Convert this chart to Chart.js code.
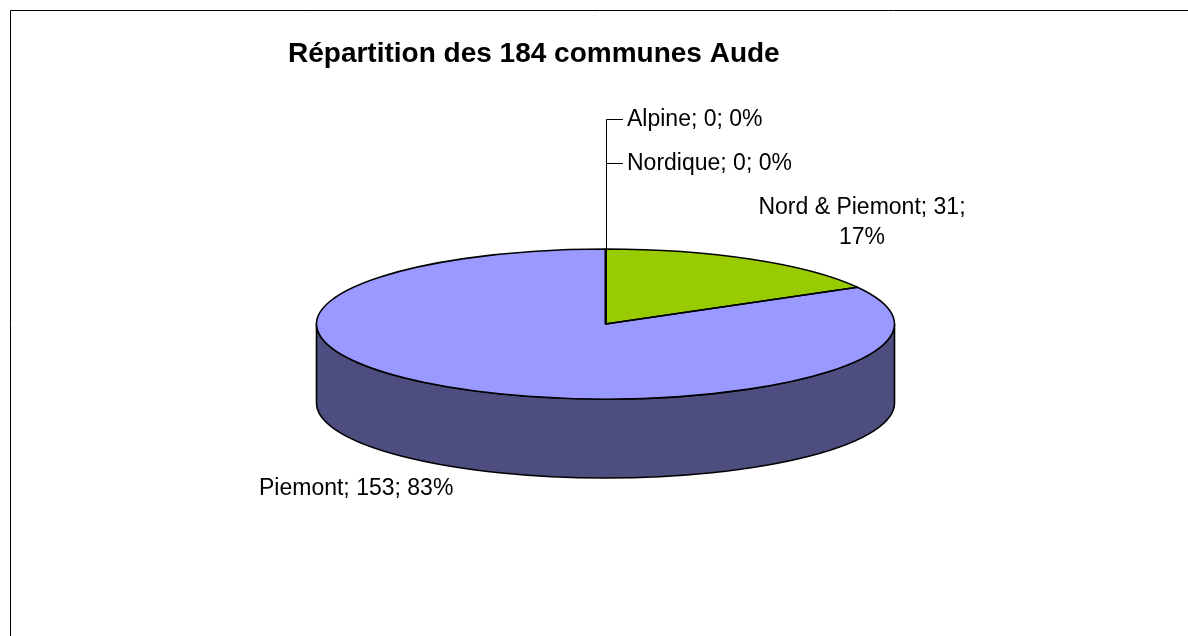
<!DOCTYPE html>
<html lang="fr">
<head>
<meta charset="utf-8">
<title>Répartition des 184 communes Aude</title>
<script src="https://cdn.jsdelivr.net/npm/chart.js@4"></script>
<style>
html,body{margin:0;padding:0;background:#fff;overflow:hidden}
canvas{display:block}
</style>
</head>
<body>
<canvas id="c" width="1188" height="636"></canvas>
<script>
const titleText = "Répartition des 184 communes Aude";
const categories = ["Alpine", "Nordique", "Nord & Piemont", "Piemont"];
const communes = [0, 0, 31, 153];
const sliceColors = ["#FFFFCC", "#CCFFFF", "#99CC00", "#9999FF"];
const sideColors = ["#80805F", "#668080", "#4D6600", "#4D4D80"];

const FONT = '"Liberation Sans", Arial, sans-serif';
const RX = 289, RY = 75, DEPTH = 79;
const labelSpots = [
  {x: 627, y: 118.5, align: "left", lead: true},
  {x: 627, y: 162.5, align: "left", lead: true},
  {x: 862, y: 206.5, align: "center", wrapAfter: 2},
  {x: 259, y: 487.5, align: "left"}
];

const pie3d = {
  id: "pie3d",
  afterLayout(chart) {
    const t = chart.titleBlock;
    const w = t.right - t.left;
    t.left = 288;
    t.right = 288 + w;
  },
  beforeDatasetsDraw(chart) {
    const ctx = chart.ctx;
    const arcs = chart.getDatasetMeta(0).data;

    // frame
    ctx.save();
    ctx.strokeStyle = "#000";
    ctx.lineWidth = 1;
    ctx.beginPath();
    ctx.moveTo(10.5, 636);
    ctx.lineTo(10.5, 10.5);
    ctx.lineTo(1188, 10.5);
    ctx.stroke();
    ctx.restore();

    // extruded side of the slices facing the viewer
    arcs.forEach((el, i) => {
      if (el.endAngle - el.startAngle <= 0) return;
      for (const k of [0, 2]) {
        const a0 = Math.max(el.startAngle, k * Math.PI);
        const a1 = Math.min(el.endAngle, (k + 1) * Math.PI);
        if (a1 <= a0) continue;
        ctx.save();
        ctx.beginPath();
        ctx.ellipse(el.x, el.y, RX, RY, 0, a0, a1, false);
        ctx.ellipse(el.x, el.y + DEPTH, RX, RY, 0, a1, a0, true);
        ctx.closePath();
        ctx.fillStyle = sideColors[i];
        ctx.fill();
        ctx.strokeStyle = "#000";
        ctx.lineWidth = 1.6;
        ctx.stroke();
        ctx.restore();
      }
    });

    // tilt the library's round pie into an ellipse
    const first = arcs[0];
    ctx.save();
    ctx.translate(first.x, first.y);
    ctx.scale(1, RY / RX);
    ctx.translate(-first.x, -first.y);
  },
  afterDatasetsDraw(chart) {
    const ctx = chart.ctx;
    ctx.restore();
    const arcs = chart.getDatasetMeta(0).data;
    const total = communes.reduce((a, b) => a + b, 0);

    ctx.save();
    ctx.strokeStyle = "#000";
    ctx.lineWidth = 1.6;
    ctx.lineJoin = "round";
    arcs.forEach(el => {
      if (el.endAngle - el.startAngle <= 0) return;
      ctx.beginPath();
      ctx.moveTo(el.x, el.y);
      ctx.ellipse(el.x, el.y, RX, RY, 0, el.startAngle, el.endAngle, false);
      ctx.closePath();
      ctx.stroke();
    });
    ctx.restore();

    // data labels
    ctx.save();
    ctx.fillStyle = "#000";
    ctx.font = "23px " + FONT;
    ctx.textBaseline = "middle";
    arcs.forEach((el, i) => {
      const s = labelSpots[i];
      const pct = Math.round(communes[i] / total * 100) + "%";
      const textY = s.y + 1.5;
      ctx.textAlign = s.align;
      if (s.lead) {
        ctx.save();
        ctx.strokeStyle = "#000";
        ctx.lineWidth = 1;
        ctx.beginPath();
        ctx.moveTo(Math.round(el.x) + 0.5, el.y);
        ctx.lineTo(Math.round(el.x) + 0.5, Math.round(s.y) + 0.5);
        ctx.lineTo(s.x - 4, Math.round(s.y) + 0.5);
        ctx.stroke();
        ctx.restore();
      }
      if (s.wrapAfter) {
        ctx.fillText(categories[i] + "; " + communes[i] + ";", s.x, textY);
        ctx.fillText(pct, s.x, textY + 30);
      } else {
        ctx.fillText(categories[i] + "; " + communes[i] + "; " + pct, s.x, textY);
      }
    });
    ctx.restore();
  }
};

new Chart(document.getElementById("c"), {
  type: "pie",
  data: {
    labels: categories,
    datasets: [{
      data: communes,
      backgroundColor: sliceColors,
      borderWidth: 0,
      radius: RX
    }]
  },
  plugins: [pie3d],
  options: {
    responsive: false,
    animation: false,
    devicePixelRatio: 1,
    layout: {padding: {left: 23, top: 0, right: 0, bottom: 58.6}},
    plugins: {
      legend: {display: false},
      tooltip: {enabled: false},
      title: {
        display: true,
        text: titleText,
        align: "start",
        color: "#000",
        font: {family: FONT, size: 28, weight: "bold", lineHeight: 1.2},
        padding: {top: 37, bottom: 0}
      }
    }
  }
});
</script>
</body>
</html>
